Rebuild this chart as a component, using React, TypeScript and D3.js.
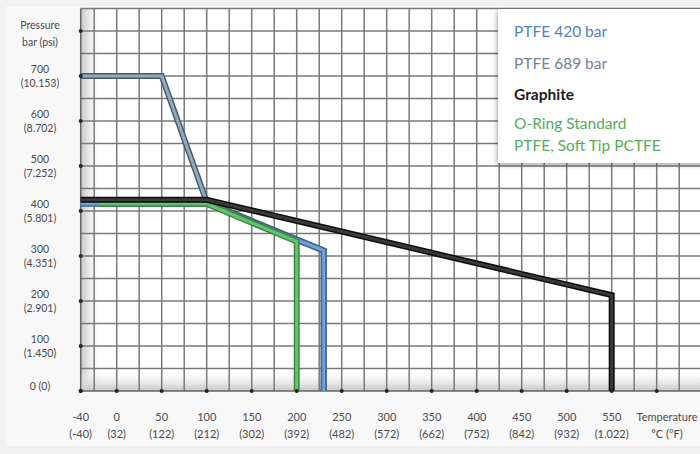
import React, { useEffect, useRef } from 'react';
import * as d3 from 'd3';

type Pt = [number, number];

const tempTicks = [-40, 0, 50, 100, 150, 200, 250, 300, 350, 400, 450, 500, 550];
const tempF = ['(-40)', '(32)', '(122)', '(212)', '(302)', '(392)', '(482)', '(572)', '(662)', '(752)', '(842)', '(932)', '(1.022)'];
const pressTicks = [700, 600, 500, 400, 300, 200, 100];
const psiLabels = ['(10.153)', '(8.702)', '(7.252)', '(5.801)', '(4.351)', '(2.901)', '(1.450)'];

const ptfe689: Pt[] = [[-40, 700], [50, 700], [100, 420], [230, 312], [230, 0]];
const ptfe420: Pt[] = [[-40, 416], [100, 416], [230, 312], [230, 0]];
const oring: Pt[] = [[-20, 416], [100, 416], [200, 332], [200, 0]];
const graphite: Pt[] = [[-40, 425], [100, 425], [550, 213], [550, 0]];

const legendNames = ['PTFE 420 bar', 'PTFE 689 bar', 'Graphite', 'O-Ring Standard', 'PTFE, Soft Tip PCTFE'];
const legendColors = ['#4f83c2', '#6e8396', '#1a1a1a', '#55ad5a', '#55ad5a'];

const W = 700;
const H = 454;

const App: React.FC = () => {
	const svgRef = useRef<SVGSVGElement>(null);

	useEffect(() => {
		document.body.style.margin = '0';
		const svg = d3.select(svgRef.current);
		svg.selectAll('*').remove();

		const x = d3.scaleLinear().domain([-40, 600]).range([80.7, 656.7]);
		const y = d3.scaleLinear().domain([0, 800]).range([391, 31]);
		const font = 'Lato, "Open Sans", sans-serif';

		const defs = svg.append('defs');
		const gl = defs.append('linearGradient').attr('id', 'gl').attr('x1', 0).attr('x2', 1).attr('y1', 0).attr('y2', 0);
		gl.append('stop').attr('offset', 0).attr('stop-color', '#c4c4c4');
		gl.append('stop').attr('offset', 1).attr('stop-color', '#ffffff').attr('stop-opacity', 0);
		const gb = defs.append('linearGradient').attr('id', 'gb').attr('x1', 0).attr('x2', 0).attr('y1', 1).attr('y2', 0);
		gb.append('stop').attr('offset', 0).attr('stop-color', '#c4c4c4');
		gb.append('stop').attr('offset', 1).attr('stop-color', '#ffffff').attr('stop-opacity', 0);
		const sh = defs.append('filter').attr('id', 'sh').attr('x', -0.2).attr('y', -0.2).attr('width', 1.4).attr('height', 1.4);
		sh.append('feDropShadow').attr('dx', -1).attr('dy', 2).attr('stdDeviation', 2.5).attr('flood-color', '#000').attr('flood-opacity', 0.35);

		// background
		svg.append('rect').attr('width', W).attr('height', H).attr('fill', '#f1f1f1');
		svg.append('rect').attr('x', 6).attr('y', 6).attr('width', W - 6).attr('height', 440).attr('fill', '#f8f8f8');

		const top = y(850);
		const left = x(-40);
		const bottom = y(0);
		svg.append('rect').attr('x', left).attr('y', top).attr('width', W - left).attr('height', bottom - top).attr('fill', '#fff');
		svg.append('rect').attr('x', left).attr('y', top).attr('width', 22).attr('height', bottom - top).attr('fill', 'url(#gl)');
		svg.append('rect').attr('x', left).attr('y', bottom - 22).attr('width', W - left).attr('height', 22).attr('fill', 'url(#gb)');

		// grid
		const grid = svg.append('g').attr('stroke', '#7a7a7a').attr('stroke-width', 1.5);
		grid.selectAll('line.v')
			.data(d3.range(-25, 650, 25))
			.enter()
			.append('line')
			.attr('x1', (d) => x(d)).attr('x2', (d) => x(d))
			.attr('y1', top).attr('y2', bottom);
		grid.selectAll('line.h')
			.data(d3.range(50, 900, 50))
			.enter()
			.append('line')
			.attr('x1', left).attr('x2', W)
			.attr('y1', (d) => y(d)).attr('y2', (d) => y(d));

		// axes
		svg.append('line').attr('x1', left).attr('x2', left).attr('y1', top).attr('y2', bottom).attr('stroke', '#666').attr('stroke-width', 1.5);
		svg.append('line').attr('x1', left).attr('x2', W).attr('y1', bottom).attr('y2', bottom).attr('stroke', '#666').attr('stroke-width', 1.5);

		// series
		const line = d3.line<Pt>().x((d) => x(d[0])).y((d) => y(d[1])).curve(d3.curveLinear);
		const series: { data: Pt[]; outer: string; inner: string }[] = [
			{ data: ptfe689, outer: '#4d5a66', inner: '#8eabc2' },
			{ data: ptfe420, outer: '#3f6796', inner: '#6ea2d8' },
			{ data: oring, outer: '#3a8a43', inner: '#62c46c' },
			{ data: graphite, outer: '#0d0d0d', inner: '#3a3a3a' },
		];
		series.forEach((s) => {
			svg.append('path').attr('d', line(s.data) as string).attr('fill', 'none')
				.attr('stroke', s.outer).attr('stroke-width', 6).attr('stroke-linejoin', 'miter');
			svg.append('path').attr('d', line(s.data) as string).attr('fill', 'none')
				.attr('stroke', s.inner).attr('stroke-width', 3).attr('stroke-linejoin', 'miter');
		});

		// tick dots
		svg.selectAll('circle.xt')
			.data([...tempTicks, 600])
			.enter()
			.append('circle')
			.attr('cx', (d) => x(d)).attr('cy', bottom).attr('r', 2).attr('fill', '#222');
		svg.selectAll('circle.yt')
			.data([0, ...pressTicks, 800])
			.enter()
			.append('circle')
			.attr('cx', left).attr('cy', (d) => y(d)).attr('r', 2).attr('fill', '#222');

		// x labels
		const xl = svg.append('g').attr('font-family', font).attr('font-size', 11).attr('fill', '#4a4a4a').attr('text-anchor', 'middle');
		tempTicks.forEach((t, i) => {
			xl.append('text').attr('x', x(t)).attr('y', 420.5).text(String(t));
			xl.append('text').attr('x', x(t)).attr('y', 437.5).text(tempF[i]);
		});
		xl.append('text').attr('x', 667).attr('y', 420.5).text('Temperature');
		xl.append('text').attr('x', 667).attr('y', 437.5).text('°C (°F)');

		// y labels
		const yl = svg.append('g').attr('font-family', font).attr('font-size', 10.5).attr('fill', '#4a4a4a').attr('text-anchor', 'middle');
		pressTicks.forEach((p, i) => {
			yl.append('text').attr('x', 40).attr('y', y(p) - 3).text(String(p));
			yl.append('text').attr('x', 40).attr('y', y(p) + 11).text(psiLabels[i]);
		});
		yl.append('text').attr('x', 40).attr('y', 389.5).text('0 (0)');
		yl.append('text').attr('x', 40).attr('y', 28.5).text('Pressure');
		yl.append('text').attr('x', 40).attr('y', 45.5).text('bar (psi)');

		// legend
		svg.append('rect').attr('x', 498).attr('y', 9).attr('width', 210).attr('height', 154)
			.attr('fill', '#fff').attr('filter', 'url(#sh)');
		const ly = [37, 69, 99.5, 129, 151];
		svg.selectAll('text.lg')
			.data(legendNames)
			.enter()
			.append('text')
			.attr('x', 514)
			.attr('y', (_, i) => ly[i])
			.attr('font-family', font)
			.attr('font-size', 15.5)
			.attr('font-weight', (_, i) => (i === 2 ? 700 : 400))
			.attr('fill', (_, i) => legendColors[i])
			.text((d) => d);
	}, []);

	return <svg ref={svgRef} width={W} height={H} style={{ display: 'block' }} />;
};

export default App;
